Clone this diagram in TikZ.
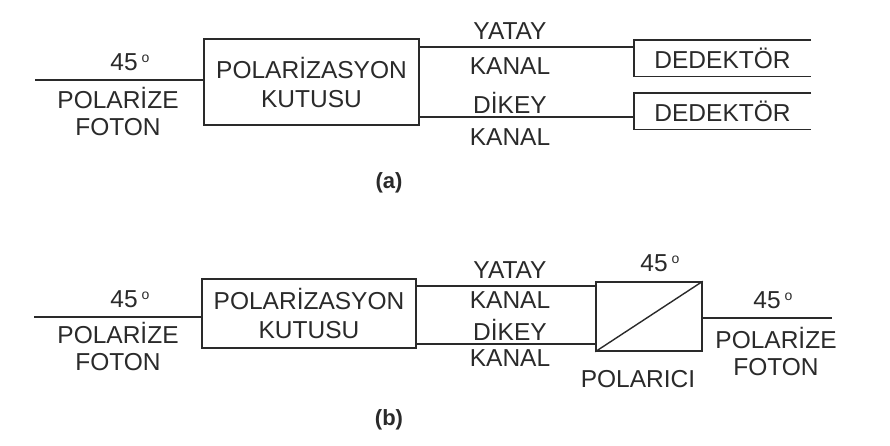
\documentclass[tikz,border=0pt]{standalone}
\usepackage{fontspec}
\setmainfont{Liberation Sans}
\definecolor{ink}{HTML}{2A2A2A}
\newcommand\degsym{\hspace{4pt}\raisebox{8pt}{\fontsize{14}{14}\selectfont o}}
\begin{document}
\begin{tikzpicture}[x=1pt,y=-1pt,
  lbl/.style={font=\fontsize{24.5}{29}\selectfont, text=ink, inner sep=0pt, align=center},
  captxt/.style={font=\bfseries\fontsize{22}{24}\selectfont, text=ink, inner sep=0pt},
  blk/.style={draw=ink, line width=1.4pt, rectangle, inner sep=0pt, font=\fontsize{24.5}{29}\selectfont, text=ink, align=center},
  ghost/.style={rectangle, inner sep=0pt, font=\fontsize{24.5}{29}\selectfont, text=ink},
  wire/.style={draw=ink, line width=1.4pt}]
\fill[white] (0,0) rectangle (890,445);
\useasboundingbox (0,0) rectangle (890,445);
% ---------- (a) ----------
\node[blk, minimum width=215pt, minimum height=86pt] (pbA) at (311.5,82) {POLARİZASYON\\KUTUSU};
\coordinate (inA) at (35,80);
\draw[wire] (inA) -- (inA -| pbA.west);
\node[lbl] (degA) at (130,62) {45\degsym};
\node[lbl] (polA) at (118,98) {POLARİZE};
\node[lbl] (fotA) at (118,127) {FOTON};
\node[ghost, minimum width=177pt, minimum height=36pt] (detA1) at (722.5,58) {DEDEKTÖR};
\node[ghost, minimum width=177pt, minimum height=36pt] (detA2) at (722.5,111) {DEDEKTÖR};
\draw[wire] (detA1.north east) -- (detA1.north west) -- (detA1.south west) -- (detA1.south east);
\draw[wire] (detA2.north east) -- (detA2.north west) -- (detA2.south west) -- (detA2.south east);
\coordinate (hYa) at (0,47);
\coordinate (hDa) at (0,117);
\draw[wire] (pbA.east |- hYa) -- (detA1.west |- hYa);
\draw[wire] (pbA.east |- hDa) -- (detA2.west |- hDa);
\node[lbl] (yatA) at (510,31) {YATAY};
\node[lbl] (kanA1) at (510,66) {KANAL};
\node[lbl] (dikA) at (510,103) {DİKEY};
\node[lbl] (kanA2) at (510,137) {KANAL};
\node[captxt] (capA) at (389,183) {(a)};
% ---------- (b) ----------
\node[blk, minimum width=214pt, minimum height=69pt] (pbB) at (309,313.5) {POLARİZASYON\\KUTUSU};
\coordinate (inB) at (34,317);
\draw[wire] (inB) -- (inB -| pbB.west);
\node[lbl] (degB) at (130,299) {45\degsym};
\node[lbl] (polB) at (118,333) {POLARİZE};
\node[lbl] (fotB) at (118,362) {FOTON};
\node[blk, minimum width=106pt, minimum height=69pt] (pz) at (649,316.5) {};
\draw[wire] (pz.south west) -- (pz.north east);
\coordinate (hYb) at (0,286);
\coordinate (hDb) at (0,344);
\draw[wire] (pbB.east |- hYb) -- (pz.west |- hYb);
\draw[wire] (pbB.east |- hDb) -- (pz.west |- hDb);
\node[lbl] (degP) at (660,263) {45\degsym};
\node[lbl] (pzl) at (638,379) {POLARICI};
\coordinate (outB) at (832,318);
\draw[wire] (pz.east |- outB) -- (outB);
\node[lbl] (degO) at (773,300) {45\degsym};
\node[lbl] (polO) at (776,338) {POLARİZE};
\node[lbl] (fotO) at (776,367) {FOTON};
\node[lbl] (yatB) at (510,270) {YATAY};
\node[lbl] (kanB1) at (510,300) {KANAL};
\node[lbl] (dikB) at (510,330) {DİKEY};
\node[lbl] (kanB2) at (510,358) {KANAL};
\node[captxt] (capB) at (389,420) {(b)};
\end{tikzpicture}
\end{document}
